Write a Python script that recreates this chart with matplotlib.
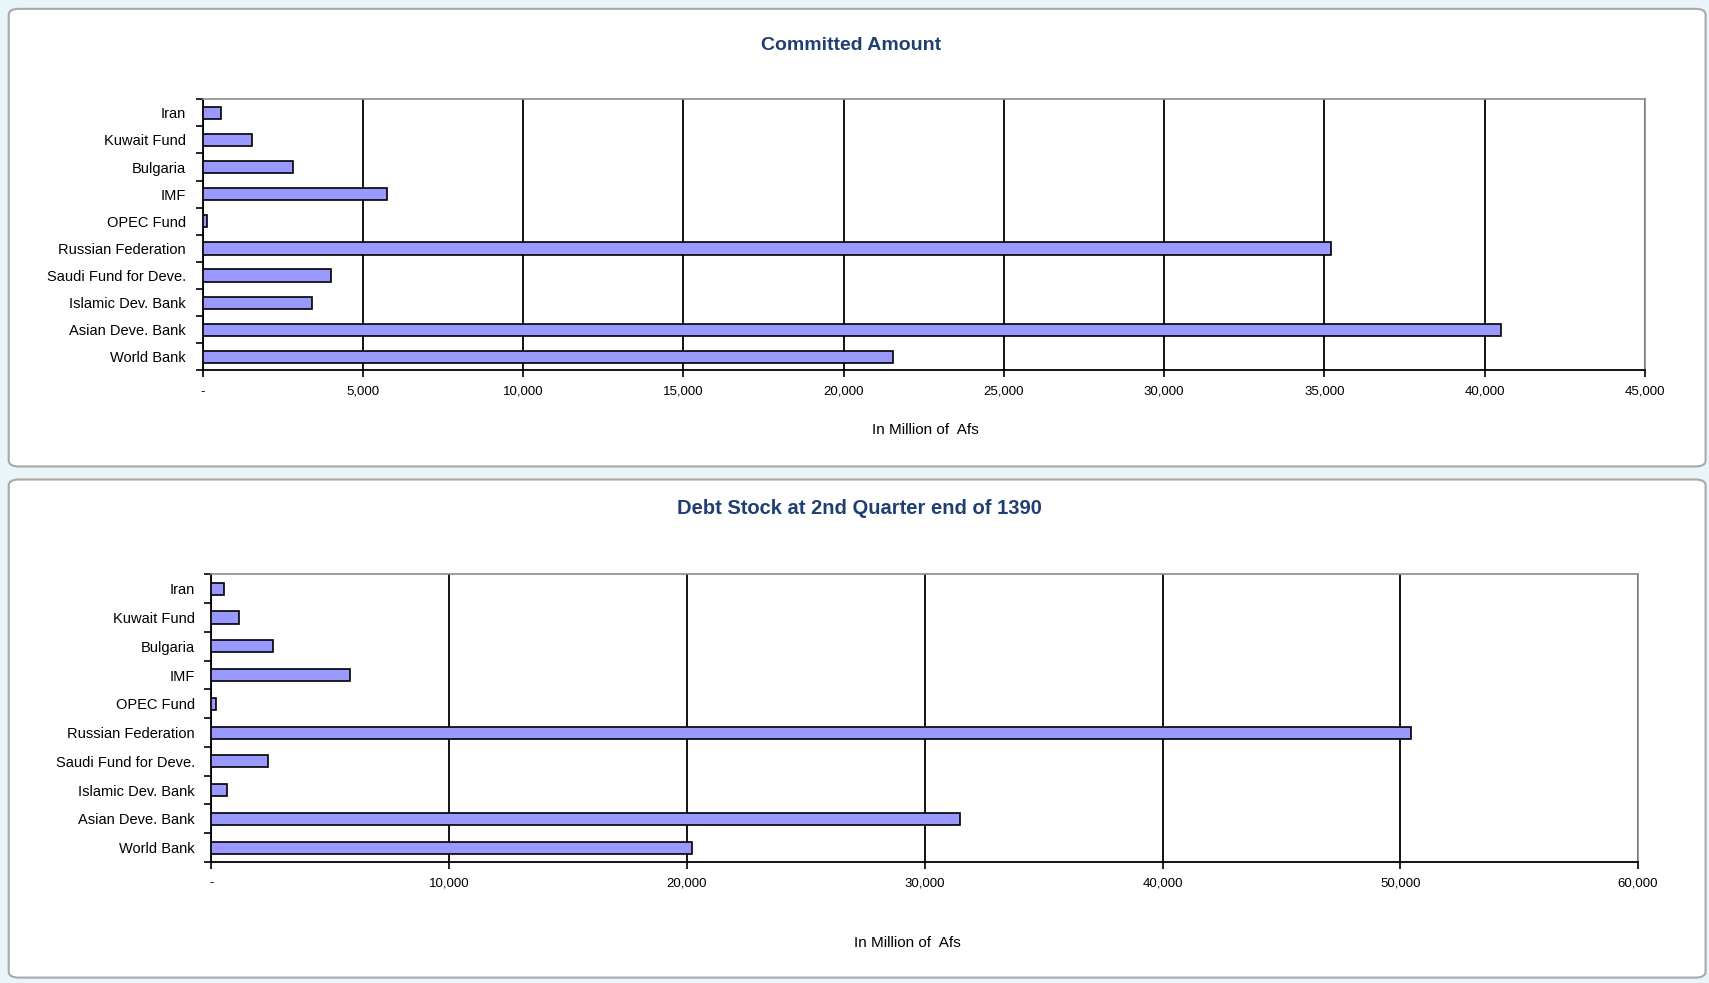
import numpy as np
import matplotlib.pyplot as plt
from matplotlib.patches import FancyBboxPatch
from matplotlib.ticker import FuncFormatter, FixedLocator

plt.rcParams['font.family'] = ['Liberation Sans', 'DejaVu Sans']

# data (top to bottom as shown)
lenders = ['Iran', 'Kuwait Fund', 'Bulgaria', 'IMF', 'OPEC Fund', 'Russian Federation',
           'Saudi Fund for Deve.', 'Islamic Dev. Bank', 'Asian Deve. Bank', 'World Bank']
committed = [580, 1530, 2820, 5750, 140, 35200, 4010, 3400, 40530, 21530]
debt_stock = [550, 1150, 2570, 5820, 180, 50450, 2380, 640, 31490, 20210]

bar_color = '#9999ff'
title_color = '#1f3f73'

fig = plt.figure(figsize=(17.09, 9.83), dpi=100)
fig.patch.set_facecolor('#eaf5f9')

# chart frames (excel chart objects)
for (y0, h) in [(0.5255, 0.4655), (0.0055, 0.5067)]:
    fig.patches.append(FancyBboxPatch((0.0051, y0), 0.9929, h, boxstyle='round,pad=0,rounding_size=0.006',
                                      transform=fig.transFigure, facecolor='white',
                                      edgecolor='#a8a8a8', linewidth=1.5, zorder=-5))


def money(v, pos):
    if v == 0:
        return '-'
    return f'{v:,.0f}'


def draw(ax, values, xmax, step, bh):
    y = np.arange(len(lenders))
    ax.barh(y, values, height=bh, color=bar_color, edgecolor='black', linewidth=1.2, zorder=3)
    ax.set_xlim(0, xmax)
    ax.set_ylim(len(lenders) - 0.5, -0.5)
    ax.set_xticks(np.arange(0, xmax + 1, step))
    ax.xaxis.set_major_formatter(FuncFormatter(money))
    ax.tick_params(axis='x', labelsize=9.5, length=5, width=1.2, direction='out', pad=6)
    # category ticks between bars, labels at centres
    ax.yaxis.set_major_locator(FixedLocator(np.arange(-0.5, len(lenders), 1)))
    ax.set_yticklabels([], minor=False)
    ax.set_yticks(y, lenders, minor=True)
    ax.tick_params(axis='y', which='major', length=5, width=1.2, direction='out')
    ax.tick_params(axis='y', which='minor', length=0, labelsize=10.5, pad=12)
    ax.grid(axis='x', color='black', linewidth=1.3, zorder=1)
    ax.set_axisbelow(True)
    for s in ['top', 'right']:
        ax.spines[s].set_color('#8c8c8c')
        ax.spines[s].set_linewidth(1.2)
    for s in ['left', 'bottom']:
        ax.spines[s].set_color('black')
        ax.spines[s].set_linewidth(1.3)


ax1 = fig.add_axes([0.1186, 0.6231, 0.8438, 0.2760])
draw(ax1, committed, 45000, 5000, 0.45)
ax2 = fig.add_axes([0.1237, 0.1231, 0.8348, 0.2926])
draw(ax2, debt_stock, 60000, 10000, 0.42)

fig.text(0.498, 0.9534, 'Committed Amount', ha='center', va='center', fontsize=14,
         fontweight='bold', color=title_color)
fig.text(0.5415, 0.5621, 'In Million of  Afs', ha='center', va='center', fontsize=11)
fig.text(0.5026, 0.4823, 'Debt Stock at 2nd Quarter end of 1390', ha='center', va='center',
         fontsize=14.5, fontweight='bold', color=title_color)
fig.text(0.5312, 0.041, 'In Million of  Afs', ha='center', va='center', fontsize=11)

fig.savefig('out.png', dpi=100, facecolor=fig.get_facecolor())
